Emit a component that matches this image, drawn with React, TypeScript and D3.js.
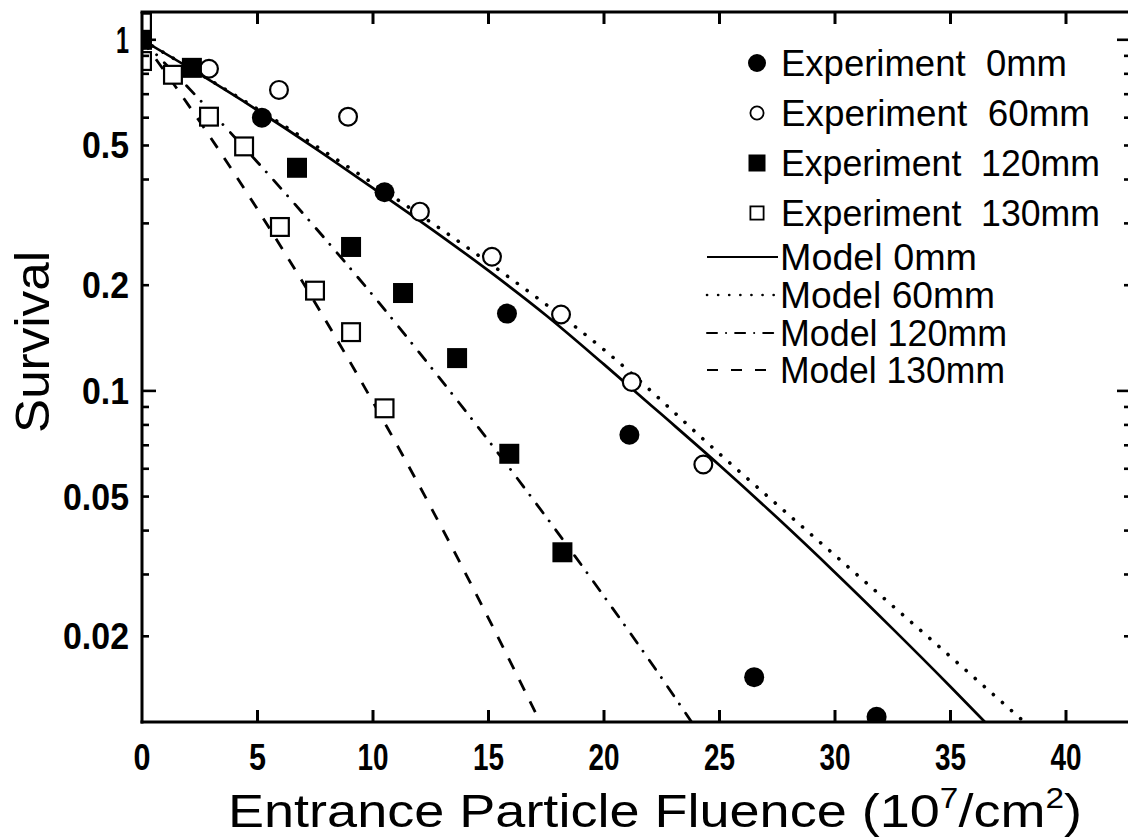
import React from 'react';
import * as d3 from 'd3';

// Canvas and plot frame
const W = 1128;
const H = 838;
const LEFT = 142;
const TOP = 12;
const BOTTOM = 722;
const RIGHT = 1131;

// Axis ticks
const xTickValues = [0, 5, 10, 15, 20, 25, 30, 35, 40];
const xTickLabels = ['0', '5', '10', '15', '20', '25', '30', '35', '40'];
const yTickValues = [1, 0.5, 0.2, 0.1, 0.05, 0.02];
const yTickLabels = ['1', '0.5', '0.2', '0.1', '0.05', '0.02'];

// Experiment 0mm (filled circles)
const exp0X = [0, 5.19, 10.5, 15.8, 21.1, 26.5, 31.8];
const exp0S = [1.0, 0.6, 0.368, 0.166, 0.075, 0.0153, 0.0118];
// Experiment 60mm (open circles)
const exp60X = [2.9, 5.93, 8.92, 12.03, 15.15, 18.14, 21.2, 24.3];
const exp60S = [0.827, 0.72, 0.604, 0.324, 0.241, 0.165, 0.106, 0.0617];
// Experiment 120mm (filled squares)
const exp120X = [0, 2.16, 6.71, 9.05, 11.3, 13.64, 15.9, 18.2];
const exp120S = [1.0, 0.832, 0.432, 0.257, 0.19, 0.124, 0.0662, 0.0347];
// Experiment 130mm (open squares)
const exp130X = [0, 0, 1.34, 2.9, 4.42, 5.97, 7.49, 9.05, 10.5];
const exp130S = [1.12, 0.87, 0.795, 0.604, 0.497, 0.293, 0.193, 0.147, 0.0892];

// Model curves
const model0X = [0, 2.5, 5, 7.5, 10, 12.5, 15, 17.5, 20, 22.5, 25, 27.5, 30, 32.5, 35, 36.5];
const model0S = [1, 0.798, 0.63, 0.491, 0.378, 0.29, 0.22, 0.164, 0.119, 0.0856, 0.0614, 0.0435, 0.0304, 0.021, 0.01437, 0.01138];
const model60X = [0, 5, 10, 15, 20, 25, 30, 35, 38.2];
const model60S = [1, 0.635, 0.39, 0.232, 0.131, 0.0662, 0.034, 0.0175, 0.0114];
const model120X = [0, 2.5, 5, 7.5, 10, 12.5, 15, 17.5, 20, 22.5, 23.8];
const model120S = [1, 0.675, 0.448, 0.292, 0.187, 0.117, 0.0722, 0.0437, 0.026, 0.0152, 0.01138];
const model130X = [0, 2.5, 5, 7.5, 10, 12.5, 15, 17.25];
const model130S = [1, 0.585, 0.329, 0.178, 0.0929, 0.0467, 0.0225, 0.01134];

// Legend entries
const expLabels = ['Experiment  0mm', 'Experiment  60mm', 'Experiment  120mm', 'Experiment  130mm'];
const modelLabels = ['Model 0mm', 'Model 60mm', 'Model 120mm', 'Model 130mm'];

const x = d3.scaleLinear().domain([0, 42.8]).range([LEFT, LEFT + 42.8 * 23.1]);
const y = d3.scaleLog().domain([0.0114, 1.2]).range([BOTTOM, TOP]);

const zip = (xs: number[], ys: number[]) => xs.map((v, i) => [v, ys[i]] as [number, number]);

const line = d3
  .line<[number, number]>()
  .x((d) => x(d[0]))
  .y((d) => y(d[1]))
  .curve(d3.curveMonotoneX);

const minorLog: number[] = [];
for (const dec of [0.01, 0.1, 1]) {
  for (let k = 1; k <= 9; k++) {
    const v = dec * k;
    if (v >= 0.0114 && v <= 1.2) minorLog.push(v);
  }
}

const FONT = '"Liberation Sans", Arial, sans-serif';

type Marker = 'filledCircle' | 'openCircle' | 'filledSquare' | 'openSquare';

function drawMarker(kind: Marker, cx: number, cy: number, size: number, key: string, sw = 2.2) {
  const r = size / 2;
  if (kind === 'filledCircle') return <circle key={key} cx={cx} cy={cy} r={r} fill="#000" />;
  if (kind === 'openCircle')
    return <circle key={key} cx={cx} cy={cy} r={r - sw / 2} fill="#fff" stroke="#000" strokeWidth={sw} />;
  if (kind === 'filledSquare')
    return <rect key={key} x={cx - r} y={cy - r} width={size} height={size} fill="#000" />;
  return (
    <rect
      key={key}
      x={cx - r + sw / 2}
      y={cy - r + sw / 2}
      width={size - sw}
      height={size - sw}
      fill="#fff"
      stroke="#000"
      strokeWidth={sw}
    />
  );
}

const series: { kind: Marker; xs: number[]; ys: number[] }[] = [
  { kind: 'openSquare', xs: exp130X, ys: exp130S },
  { kind: 'openCircle', xs: exp60X, ys: exp60S },
  { kind: 'filledCircle', xs: exp0X, ys: exp0S },
  { kind: 'filledSquare', xs: exp120X, ys: exp120S },
];

const models = [
  { xs: model0X, ys: model0S, dash: undefined as string | undefined, width: 2.7, cap: 'butt' },
  { xs: model60X, ys: model60S, dash: '0.1 12', width: 3.6, cap: 'round' },
  { xs: model120X, ys: model120S, dash: '11 10 0.1 11', width: 2.8, cap: 'round' },
  { xs: model130X, ys: model130S, dash: '12 12', width: 2.8, cap: 'butt' },
];

const expMarkers: Marker[] = ['filledCircle', 'openCircle', 'filledSquare', 'openSquare'];
const expMarkerSize = [18, 15, 17, 15];
const expRowY = [63, 113, 163, 213];
const expLen = [286, 309, 319, 319];
const modelRowY = [257, 295, 333, 370];
const modelLen = [197, 215, 227, 225];
const modelDash = [undefined, '0.1 11', '10 9 0.1 9', '11 13'];

export default function App() {
  return (
    <svg
      width={W}
      height={H}
      viewBox={`0 0 ${W} ${H}`}
      style={{ position: 'absolute', left: 0, top: 0, background: '#fff' }}
    >
      <defs>
        <clipPath id="plotArea">
          <rect x={LEFT} y={TOP} width={RIGHT - LEFT} height={BOTTOM - TOP} />
        </clipPath>
      </defs>
      <rect x={0} y={0} width={W} height={H} fill="#fff" />

      {/* model curves */}
      <g clipPath="url(#plotArea)">
        {models.map((m, i) => (
          <path
            key={`m${i}`}
            d={line(zip(m.xs, m.ys)) || ''}
            fill="none"
            stroke="#000"
            strokeWidth={m.width}
            strokeDasharray={m.dash}
            strokeLinecap={m.cap as any}
          />
        ))}
      </g>

      {/* experimental points */}
      <g clipPath="url(#plotArea)">
        {series.map((s, si) =>
          s.xs.map((v, i) => drawMarker(s.kind, x(v), y(s.ys[i]), 20, `p${si}-${i}`))
        )}
      </g>

      {/* frame */}
      <g stroke="#000" strokeWidth={3} fill="none">
        <line x1={LEFT} y1={TOP} x2={LEFT} y2={BOTTOM + 1.5} />
        <line x1={LEFT - 1.5} y1={BOTTOM} x2={RIGHT} y2={BOTTOM} />
        <line x1={LEFT - 1.5} y1={TOP} x2={RIGHT} y2={TOP} />
        <line x1={RIGHT} y1={TOP} x2={RIGHT} y2={BOTTOM} />
      </g>

      {/* x ticks, bottom and top */}
      <g stroke="#000" strokeWidth={3}>
        {xTickValues.slice(1).map((v) => (
          <g key={`xt${v}`}>
            <line x1={x(v)} x2={x(v)} y1={BOTTOM} y2={BOTTOM - 12} />
            <line x1={x(v)} x2={x(v)} y1={TOP} y2={TOP + 12} />
          </g>
        ))}
      </g>

      {/* y ticks, left and right */}
      <g stroke="#000" strokeWidth={2.6}>
        {minorLog.map((v) => {
          const major = Math.abs(Math.log10(v) - Math.round(Math.log10(v))) < 1e-9;
          const len = major ? 14 : 7;
          return (
            <g key={`yt${v}`}>
              <line x1={LEFT} x2={LEFT + len} y1={y(v)} y2={y(v)} />
              <line x1={RIGHT} x2={RIGHT - len} y1={y(v)} y2={y(v)} />
            </g>
          );
        })}
      </g>

      {/* x tick labels */}
      <g fontFamily={FONT} fontWeight="bold" fontSize={36} fill="#000">
        {xTickValues.map((v, i) => (
          <text
            key={`xl${v}`}
            x={x(v)}
            y={770}
            textAnchor="middle"
            textLength={xTickLabels[i].length === 1 ? 17 : 31}
            lengthAdjust="spacingAndGlyphs"
          >
            {xTickLabels[i]}
          </text>
        ))}
      </g>

      {/* y tick labels */}
      <g fontFamily={FONT} fontWeight="bold" fontSize={36} fill="#000">
        {yTickValues.map((v, i) => {
          const lab = yTickLabels[i];
          const len = lab.length === 1 ? 13 : lab.length === 3 ? 47 : 66;
          return (
            <text
              key={`yl${v}`}
              x={129 - len}
              y={y(v) + 13}
              textLength={len}
              lengthAdjust="spacingAndGlyphs"
            >
              {lab}
            </text>
          );
        })}
      </g>

      {/* axis titles */}
      <text
        transform="translate(49,342) rotate(-90)"
        textAnchor="middle"
        fontFamily={FONT}
        fontSize={48}
        textLength={182}
        lengthAdjust="spacingAndGlyphs"
      >
        Survival
      </text>
      <text x={228} y={827} fontFamily={FONT} fontSize={47} textLength={854} lengthAdjust="spacingAndGlyphs">
        Entrance Particle Fluence (10
        <tspan fontSize={29} dy={-19}>7</tspan>
        <tspan dy={19}>/cm</tspan>
        <tspan fontSize={29} dy={-19}>2</tspan>
        <tspan dy={19}>)</tspan>
      </text>

      {/* legend: experiments */}
      <g fontFamily={FONT} fontSize={36} fill="#000">
        {expLabels.map((lab, i) => (
          <g key={`le${i}`}>
            {drawMarker(expMarkers[i], 757, expRowY[i], expMarkerSize[i], `lm${i}`, 1.8)}
            <text
              x={781}
              y={expRowY[i] + 13}
              textLength={expLen[i]}
              lengthAdjust="spacingAndGlyphs"
              style={{ whiteSpace: 'pre' }}
            >
              {lab}
            </text>
          </g>
        ))}
      </g>

      {/* legend: models */}
      <g fontFamily={FONT} fontSize={36} fill="#000">
        {modelLabels.map((lab, i) => (
          <g key={`lmod${i}`}>
            <line
              x1={707}
              x2={778}
              y1={modelRowY[i]}
              y2={modelRowY[i]}
              stroke="#000"
              strokeWidth={i === 1 ? 2.6 : 2}
              strokeDasharray={modelDash[i]}
              strokeLinecap={i === 1 || i === 2 ? 'round' : 'butt'}
            />
            <text x={780} y={modelRowY[i] + 13} textLength={modelLen[i]} lengthAdjust="spacingAndGlyphs">
              {lab}
            </text>
          </g>
        ))}
      </g>
    </svg>
  );
}
